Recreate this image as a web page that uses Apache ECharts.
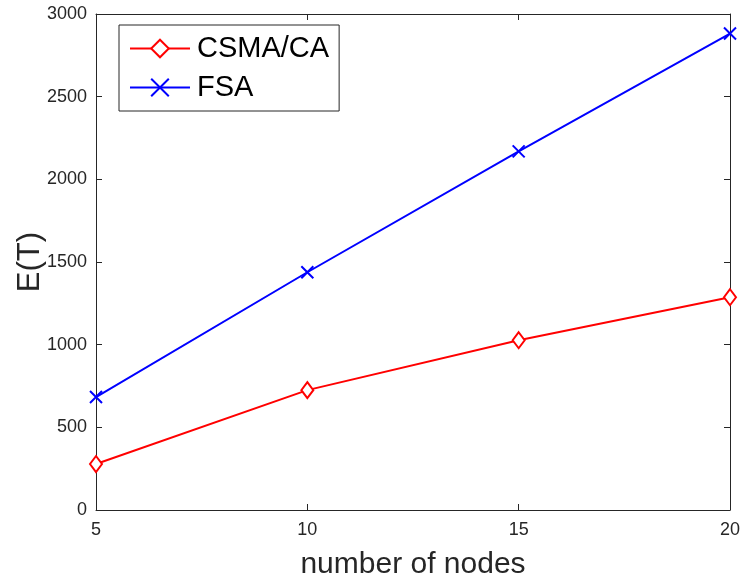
<!DOCTYPE html>
<html><head><meta charset="utf-8">
<script src="https://cdn.jsdelivr.net/npm/echarts@6/dist/echarts.min.js"></script>
<style>html,body{margin:0;padding:0;background:#fff}#c{width:742px;height:581px}</style>
</head><body><div id="c"></div>
<script>
var nodes = [5, 10, 15, 20];
var csma = [278, 725, 1027, 1287];
var fsa = [683, 1438, 2169, 2882];
var xTicks = [5, 10, 15, 20];
var yTicks = [0, 500, 1000, 1500, 2000, 2500, 3000];

var chart = echarts.init(document.getElementById('c'), null, {renderer: 'canvas'});
var font = 'Liberation Sans, Arial, Helvetica, sans-serif';
var axCol = '#262626';
function pairs(v){ return nodes.map(function(n,i){ return [n, v[i]]; }); }
function plain(v){ return String(v); }
var baseAxis = {
  axisLine: {show: true, onZero: false, lineStyle: {color: axCol, width: 1}},
  axisTick: {show: true, inside: true, length: 6, lineStyle: {color: axCol}},
  splitLine: {show: false}
};
chart.setOption({
  animation: false,
  backgroundColor: '#fff',
  grid: {left: 96, right: 12, top: 14, bottom: 71, containLabel: false, outerBoundsMode: 'none'},
  xAxis: [
    Object.assign({}, baseAxis, {type: 'value', min: xTicks[0], max: xTicks[xTicks.length-1], interval: 5, position: 'bottom',
      name: 'number of nodes', nameLocation: 'middle', nameGap: 40, nameMoveOverlap: false,
      nameTextStyle: {color: axCol, fontFamily: font, fontSize: 30},
      axisLabel: {color: axCol, fontFamily: font, fontSize: 18, margin: 11, formatter: plain}}),
    Object.assign({}, baseAxis, {type: 'value', min: xTicks[0], max: xTicks[xTicks.length-1], interval: 5, position: 'top',
      axisLabel: {show: false}})
  ],
  yAxis: [
    Object.assign({}, baseAxis, {type: 'value', min: yTicks[0], max: yTicks[yTicks.length-1], interval: 500, position: 'left',
      name: 'E(T)', nameLocation: 'middle', nameGap: 50, nameRotate: 90, nameMoveOverlap: false,
      nameTextStyle: {color: axCol, fontFamily: font, fontSize: 31},
      axisLabel: {color: axCol, fontFamily: font, fontSize: 18, margin: 9, formatter: plain}}),
    Object.assign({}, baseAxis, {type: 'value', min: yTicks[0], max: yTicks[yTicks.length-1], interval: 500, position: 'right',
      axisLabel: {show: false}})
  ],
  legend: {
    left: 119, top: 25, orient: 'vertical',
    backgroundColor: '#fff', borderColor: axCol, borderWidth: 1,
    padding: [9, 10, 9, 10], itemGap: 10, itemWidth: 60, itemHeight: 22,
    textStyle: {fontFamily: font, fontSize: 29, color: '#000', padding: [0, 0, 0, 2]},
    data: ['CSMA/CA', 'FSA']
  },
  series: [
    {name: 'CSMA/CA', type: 'line', data: pairs(csma), xAxisIndex: 0, yAxisIndex: 0,
     symbol: 'diamond', symbolSize: [12, 16], showAllSymbol: true,
     lineStyle: {color: '#ff0000', width: 2},
     itemStyle: {color: '#fff', borderColor: '#ff0000', borderWidth: 2}},
    {name: 'FSA', type: 'line', data: pairs(fsa), xAxisIndex: 0, yAxisIndex: 0,
     symbol: 'path://M0,0L10,10M10,0L0,10', symbolSize: 12, showAllSymbol: true,
     lineStyle: {color: '#0000ff', width: 2},
     itemStyle: {color: 'none', borderColor: '#0000ff', borderWidth: 2}}
  ]
});
</script></body></html>
